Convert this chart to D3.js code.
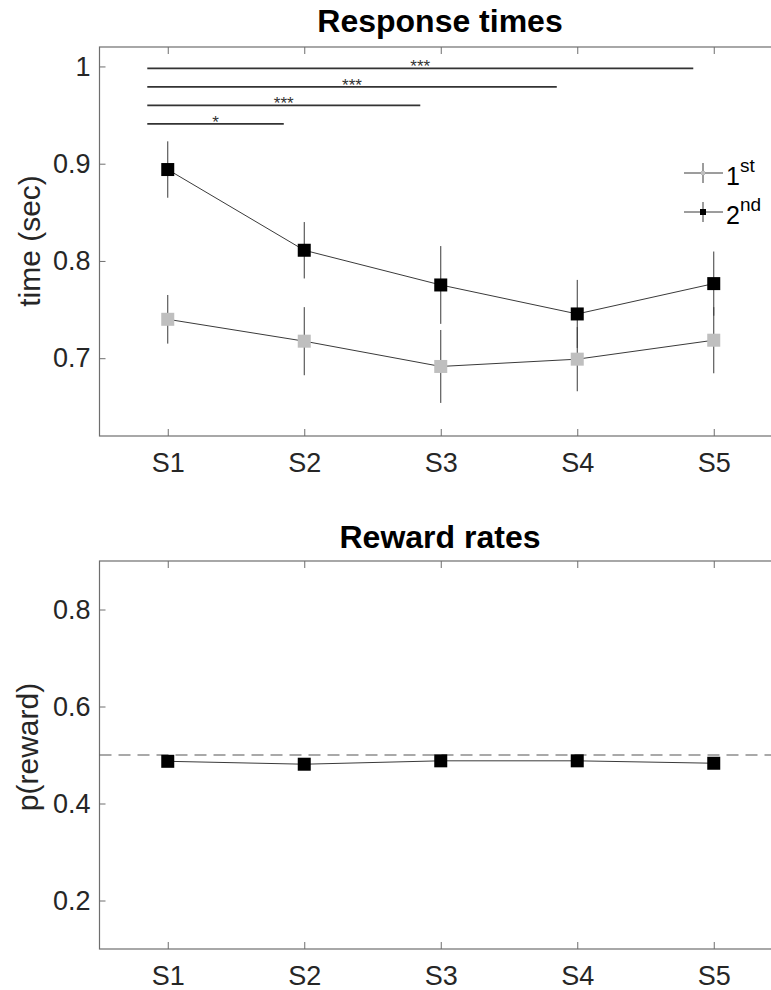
<!DOCTYPE html>
<html>
<head>
<meta charset="utf-8">
<script src="https://cdn.jsdelivr.net/npm/d3@7"></script>
<style>
  html, body { margin: 0; padding: 0; background: #fff; }
  svg { display: block; font-family: "Liberation Sans", Arial, Helvetica, sans-serif; }
</style>
</head>
<body>
<svg id="chart" width="771" height="990"></svg>
<script>
// ---------- data ----------
const categories = ["S1", "S2", "S3", "S4", "S5"];
const rtFirst     = [0.740, 0.7175, 0.6915, 0.699, 0.7185];
const rtFirstErr  = [0.025, 0.035, 0.0375, 0.033, 0.034];
const rtSecond    = [0.894, 0.811, 0.7753, 0.7455, 0.7767];
const rtSecondErr = [0.029, 0.029, 0.040, 0.035, 0.033];
const rtTicks = [0.7, 0.8, 0.9, 1];
const sigFrom  = [1, 1, 1, 1];
const sigTo    = [2, 3, 4, 5];
const sigLabel = ["*", "***", "***", "***"];
const sigLevel = [0.941, 0.960, 0.979, 0.998];
const rewardRate = [0.487, 0.481, 0.488, 0.488, 0.483];
const rewardTicks = [0.2, 0.4, 0.6, 0.8];
const chanceLevel = 0.5;
const legendLabels = [["1", "st"], ["2", "nd"]];

// ---------- setup ----------
const svg = d3.select("#chart");
svg.append("rect").attr("width", 771).attr("height", 990).attr("fill", "#fff");
const axisColor = "#6e6e6e";
const textColor = "#262626";
const lineColor = "#3a3a3a";
const grayMarker = "#bfbfbf";

const x = d3.scaleLinear().domain([0.5, 5.5]).range([99.5, 782]);
const xIdx = i => x(i + 1);

function frame(y, ticks, fmt) {
  const g = svg.append("g");
  const [y0, y1] = y.range();
  g.append("rect")
    .attr("x", x.range()[0]).attr("y", y1)
    .attr("width", x.range()[1] - x.range()[0]).attr("height", y0 - y1)
    .attr("fill", "none").attr("stroke", axisColor).attr("stroke-width", 1.2);
  const xa = d3.axisBottom(x).tickValues([1, 2, 3, 4, 5])
    .tickFormat(d => categories[d - 1]).tickSizeInner(-7).tickSizeOuter(0).tickPadding(17);
  const gx = g.append("g").attr("transform", `translate(0,${y0})`).call(xa);
  gx.select(".domain").remove();
  gx.selectAll("line").attr("stroke", axisColor);
  gx.selectAll("text").attr("font-size", 27).attr("fill", textColor)
    .attr("font-family", "Liberation Sans, Arial, sans-serif");
  const xt = d3.axisTop(x).tickValues([1, 2, 3, 4, 5]).tickFormat("").tickSizeInner(-7).tickSizeOuter(0);
  const gxt = g.append("g").attr("transform", `translate(0,${y1})`).call(xt);
  gxt.select(".domain").remove();
  gxt.selectAll("line").attr("stroke", axisColor);
  const ya = d3.axisLeft(y).tickValues(ticks).tickFormat(fmt).tickSizeInner(-6).tickSizeOuter(0).tickPadding(9);
  const gy = g.append("g").attr("transform", `translate(${x.range()[0]},0)`).call(ya);
  gy.select(".domain").remove();
  gy.selectAll("line").attr("stroke", axisColor);
  gy.selectAll("text").attr("font-size", 27).attr("fill", textColor)
    .attr("font-family", "Liberation Sans, Arial, sans-serif");
  return g;
}

// ---------- top panel: response times ----------
const yTop = d3.scaleLinear().domain([0.62, 1.02]).range([436, 47]);
frame(yTop, rtTicks, d => d === 1 ? "1" : d3.format(".1f")(d));

svg.append("text").attr("x", 440).attr("y", 32).attr("text-anchor", "middle")
  .attr("font-size", 32).attr("font-weight", "bold").attr("fill", "#000").text("Response times");
svg.append("text").attr("transform", `translate(40,241) rotate(-90)`)
  .attr("text-anchor", "middle").attr("font-size", 30).attr("fill", textColor).text("time (sec)");

// significance bars
const sig = svg.append("g");
sigFrom.forEach((f, i) => {
  const xa = x(f - 0.15), xb = x(sigTo[i] - 0.15), yy = yTop(sigLevel[i]);
  sig.append("line").attr("x1", xa).attr("x2", xb).attr("y1", yy).attr("y2", yy)
    .attr("stroke", "#333").attr("stroke-width", 1.6);
  sig.append("text").attr("x", (xa + xb) / 2).attr("y", yy + 4)
    .attr("text-anchor", "middle").attr("font-size", 17).attr("fill", "#333").text(sigLabel[i]);
});

function series(vals, errs, fill, size, yScale) {
  const g = svg.append("g");
  const line = d3.line().x((d, i) => xIdx(i)).y(d => yScale(d));
  g.append("path").attr("d", line(vals)).attr("fill", "none").attr("stroke", lineColor).attr("stroke-width", 1);
  if (errs) {
    g.selectAll(".eb").data(vals).join("line")
      .attr("x1", (d, i) => xIdx(i)).attr("x2", (d, i) => xIdx(i))
      .attr("y1", (d, i) => yScale(d - errs[i])).attr("y2", (d, i) => yScale(d + errs[i]))
      .attr("stroke", lineColor).attr("stroke-width", 1);
  }
  g.selectAll(".mk").data(vals).join("rect")
    .attr("x", (d, i) => xIdx(i) - size / 2).attr("y", d => yScale(d) - size / 2)
    .attr("width", size).attr("height", size).attr("fill", fill);
  return g;
}
series(rtFirst, rtFirstErr, grayMarker, 13, yTop);
series(rtSecond, rtSecondErr, "#000", 13, yTop);

// legend
const leg = svg.append("g");
const legY = [173, 212];
const legFill = [grayMarker, "#000"];
const legSize = [4, 6];
legendLabels.forEach((lab, i) => {
  const yy = legY[i];
  leg.append("line").attr("x1", 684).attr("x2", 723).attr("y1", yy).attr("y2", yy)
    .attr("stroke", lineColor).attr("stroke-width", 1);
  leg.append("line").attr("x1", 703).attr("x2", 703).attr("y1", yy - 10).attr("y2", yy + 10)
    .attr("stroke", lineColor).attr("stroke-width", 1);
  leg.append("rect").attr("x", 703 - legSize[i] / 2).attr("y", yy - legSize[i] / 2)
    .attr("width", legSize[i]).attr("height", legSize[i]).attr("fill", legFill[i]);
  const t = leg.append("text").attr("x", 726).attr("y", yy + 12).attr("font-size", 25).attr("fill", "#000");
  t.append("tspan").text(lab[0]);
  t.append("tspan").attr("dy", -13).attr("font-size", 19).text(lab[1]);
});

// ---------- bottom panel: reward rates ----------
const yBot = d3.scaleLinear().domain([0.1, 0.9]).range([949, 561]);
frame(yBot, rewardTicks, d3.format(".1f"));

svg.append("text").attr("x", 440).attr("y", 548).attr("text-anchor", "middle")
  .attr("font-size", 32).attr("font-weight", "bold").attr("fill", "#000").text("Reward rates");
svg.append("text").attr("transform", `translate(38,747) rotate(-90)`)
  .attr("text-anchor", "middle").attr("font-size", 30).attr("fill", textColor).text("p(reward)");

svg.append("line").attr("x1", x(0.5)).attr("x2", x(5.5))
  .attr("y1", yBot(chanceLevel)).attr("y2", yBot(chanceLevel))
  .attr("stroke", "#555").attr("stroke-width", 1.2).attr("stroke-dasharray", "12,7");
series(rewardRate, null, "#000", 13, yBot);
</script>
</body>
</html>
